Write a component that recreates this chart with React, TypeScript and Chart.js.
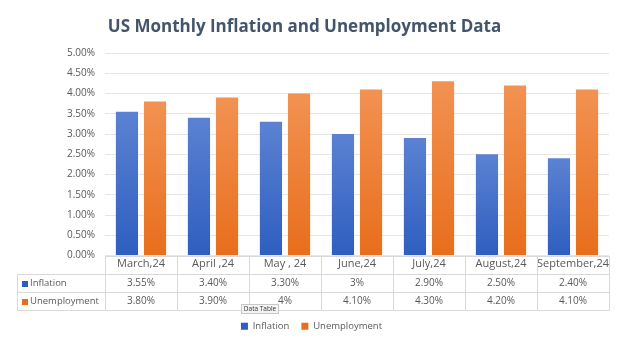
import React, { useEffect, useRef } from "react";
import { Chart, registerables } from "chart.js";

Chart.register(...registerables);

const categories = ["March,24", "April ,24", "May , 24", "June,24", "July,24", "August,24", "September,24"];
const inflation = [3.55, 3.4, 3.3, 3.0, 2.9, 2.5, 2.4];
const unemployment = [3.8, 3.9, 4.0, 4.1, 4.3, 4.2, 4.1];
const inflationText = ["3.55%", "3.40%", "3.30%", "3%", "2.90%", "2.50%", "2.40%"];
const unemploymentText = ["3.80%", "3.90%", "4%", "4.10%", "4.30%", "4.20%", "4.10%"];
const seriesNames = ["Inflation", "Unemployment"];
const yMin = 0;
const yMax = 5;
const yStep = 0.5;

const FONT = "'Open Sans', sans-serif";
const TEXT = "#595959";
const LINE = "#d9d9d9";
const BLUE = ["#5b82d2", "#2f5ec0"];
const ORANGE = ["#f29252", "#e86e1c"];
const ROW_H = 18;

function barGradient(colors: string[]) {
  return (ctx: any) => {
    const chart = ctx.chart;
    const y = chart.scales?.y;
    if (!y || ctx.raw == null) return colors[1];
    const top = y.getPixelForValue(ctx.raw);
    const bottom = y.getPixelForValue(0);
    if (!isFinite(top) || !isFinite(bottom) || top === bottom) return colors[1];
    const g = chart.ctx.createLinearGradient(0, top, 0, bottom);
    g.addColorStop(0, colors[0]);
    g.addColorStop(1, colors[1]);
    return g;
  };
}

const legendShift = {
  id: "legendShift",
  afterLayout(chart: any) {
    const lg = chart.legend;
    if (lg) {
      lg.left += 7;
      lg.right += 7;
    }
  },
};

const tablePlugin = {
  id: "dataTable",
  afterDraw(chart: any) {
    const ctx = chart.ctx;
    const x = chart.scales.x;
    const area = chart.chartArea;
    const top = Math.round(area.bottom) + 0.5;
    const left = Math.round(area.left) + 0.5;
    const right = Math.round(area.right) + 0.5;
    const labelLeft = 17.5;
    const n = categories.length;
    const colW = (area.right - area.left) / n;
    ctx.save();
    ctx.strokeStyle = LINE;
    ctx.lineWidth = 1;
    ctx.beginPath();
    ctx.moveTo(left, top);
    ctx.lineTo(right, top);
    for (let r = 1; r <= 3; r++) {
      const yy = top + r * ROW_H;
      ctx.moveTo(labelLeft, yy);
      ctx.lineTo(right, yy);
    }
    ctx.moveTo(labelLeft, top + ROW_H);
    ctx.lineTo(labelLeft, top + 3 * ROW_H);
    for (let i = 0; i <= n; i++) {
      const xx = Math.round(area.left + i * colW) + 0.5;
      ctx.moveTo(xx, top);
      ctx.lineTo(xx, top + 3 * ROW_H);
    }
    ctx.stroke();

    ctx.font = `10px ${FONT}`;
    ctx.fillStyle = TEXT;
    ctx.textBaseline = "middle";
    ctx.textAlign = "center";
    const rows = [inflationText, unemploymentText];
    rows.forEach((vals, r) => {
      const yy = top + (r + 1.5) * ROW_H;
      vals.forEach((v, i) => {
        ctx.fillText(v, x.getPixelForValue(i), yy);
      });
    });
    const swatches = [BLUE[1], ORANGE[1]];
    ctx.textAlign = "left";
    ctx.font = `9.5px ${FONT}`;
    seriesNames.forEach((name, r) => {
      const yy = top + (r + 1.5) * ROW_H;
      ctx.fillStyle = swatches[r];
      ctx.fillRect(22, Math.round(yy - 3), 6, 6);
      ctx.fillStyle = TEXT;
      ctx.fillText(name, 30, yy);
    });

    ctx.fillStyle = "#f4f4f4";
    ctx.strokeStyle = "#c8c8c8";
    ctx.fillRect(241.5, 304.5, 37, 9);
    ctx.strokeRect(241.5, 304.5, 37, 9);
    ctx.fillStyle = "#333333";
    ctx.font = `6.5px ${FONT}`;
    ctx.textAlign = "center";
    ctx.fillText("Data Table", 260, 309);
    ctx.restore();
  },
};

export default function App() {
  const ref = useRef<HTMLCanvasElement | null>(null);

  useEffect(() => {
    document.body.style.margin = "0";
    const canvas = ref.current;
    if (!canvas) return;
    const chart = new Chart(canvas, {
      type: "bar",
      data: {
        labels: categories,
        datasets: [
          {
            label: seriesNames[0],
            data: inflation,
            backgroundColor: barGradient(BLUE),
            borderWidth: 0,
            categoryPercentage: 0.78,
            barPercentage: 0.79,
          },
          {
            label: seriesNames[1],
            data: unemployment,
            backgroundColor: barGradient(ORANGE),
            borderWidth: 0,
            categoryPercentage: 0.78,
            barPercentage: 0.79,
          },
        ],
      },
      options: {
        responsive: false,
        animation: false,
        devicePixelRatio: 1,
        layout: { padding: { left: 0, right: 11, top: 0, bottom: 7 } },
        plugins: {
          title: {
            display: true,
            text: "US Monthly Inflation and Unemployment Data",
            color: "#44546a",
            font: { family: FONT, size: 17, weight: "bold" },
            padding: { top: 17, bottom: 15.6 },
          },
          legend: {
            position: "bottom",
            labels: {
              boxWidth: 7,
              boxHeight: 7,
              padding: 12,
              color: TEXT,
              font: { family: FONT, size: 9.5 },
              generateLabels: (chart: any) =>
                chart.data.datasets.map((ds: any, i: number) => ({
                  text: ds.label,
                  fillStyle: i === 0 ? BLUE[1] : ORANGE[1],
                  strokeStyle: "transparent",
                  lineWidth: 0,
                  hidden: false,
                  datasetIndex: i,
                  fontColor: TEXT,
                })),
            },
          },
          tooltip: { enabled: false },
        },
        scales: {
          x: {
            grid: { display: false, drawTicks: false },
            border: { display: false },
            ticks: {
              color: TEXT,
              font: { family: FONT, size: 11 },
              padding: 2,
              maxRotation: 0,
              autoSkip: false,
            },
            afterFit: (scale: any) => {
              scale.height = 3 * ROW_H;
            },
          },
          y: {
            min: yMin,
            max: yMax,
            grid: { color: "#e6e6e6", drawTicks: false },
            border: { display: false },
            ticks: {
              stepSize: yStep,
              color: TEXT,
              padding: 10,
              font: { family: FONT, size: 10 },
              callback: (v: any) => Number(v).toFixed(2) + "%",
            },
            afterFit: (scale: any) => {
              scale.width = 105;
            },
          },
        },
      },
      plugins: [tablePlugin, legendShift],
    });
    return () => chart.destroy();
  }, []);

  return <canvas ref={ref} width={620} height={348} style={{ display: "block" }} />;
}
